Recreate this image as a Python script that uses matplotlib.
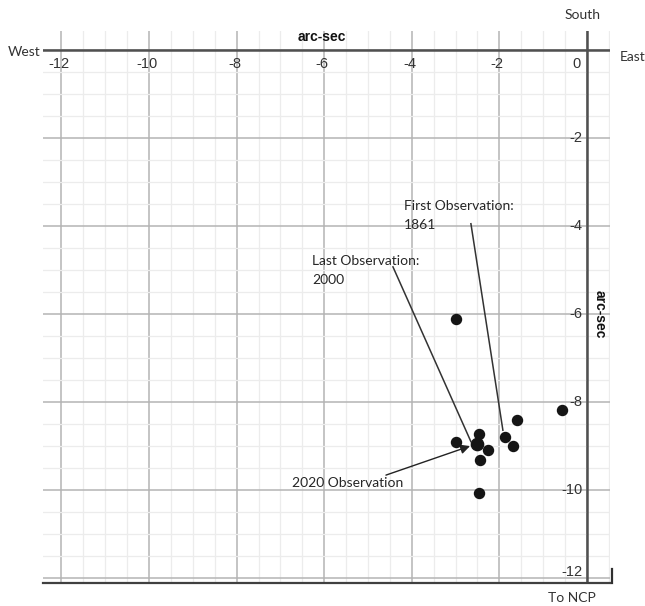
import numpy as np
import matplotlib
matplotlib.use("Agg")
import matplotlib.pyplot as plt

obs_x = [-0.58, -1.60, -1.87, -1.68, -2.46, -2.99, -2.25, -2.44, -2.46, -2.99]
obs_y = [-8.18, -8.41, -8.80, -8.99, -8.73, -8.91, -9.09, -9.32, -10.06, -6.11]
# 2000 / 2020 observations sit on top of each other
last_x = [-2.50]
last_y = [-8.96]

x_ticks = [-12, -10, -8, -6, -4, -2, 0]
y_ticks = [-2, -4, -6, -8, -10, -12]

fig = plt.figure(figsize=(6.45, 6.06), dpi=100)
ax = fig.add_axes([0.0667, 0.038, 0.879, 0.911])
ax.set_xlim(-12.42, 0.525)
ax.set_ylim(-12.11, 0.43)

# grid: light every 0.5, darker every 2
for v in np.arange(-12, 0.6, 0.5):
    major = abs(v / 2 - round(v / 2)) < 1e-9
    ax.axvline(v, color="#b4b4b4" if major else "#ececec", lw=1.1 if major else 0.9, zorder=0)
for v in np.arange(-12, 0.5, 0.5):
    major = abs(v / 2 - round(v / 2)) < 1e-9
    ax.axhline(v, color="#b4b4b4" if major else "#ececec", lw=1.1 if major else 0.9, zorder=0)

ax.axhline(0, color="#505050", lw=1.8, zorder=1)
ax.axvline(0, color="#505050", lw=1.8, zorder=1)

for s in ["top", "right", "left"]:
    ax.spines[s].set_visible(False)
ax.spines["bottom"].set_color("#404040")
ax.spines["bottom"].set_linewidth(1.6)
ax.set_xticks([])
ax.set_yticks([])
ax.plot([0.57, 0.57], [-12.11, -11.8], color="#303030", lw=1.6, clip_on=False)

tick_font = dict(family="Liberation Sans", fontsize=10.5, color="#333333")
for t in x_ticks:
    xp = -0.23 if t == 0 else t - 0.05
    ax.text(xp, -0.32, str(t), ha="center", va="center", **tick_font)
for t in y_ticks:
    yp = -11.86 if t == -12 else t
    ax.text(-0.1, yp, str(t), ha="right", va="center", **tick_font)

ax.scatter(obs_x, obs_y, s=52, color="#151515", zorder=5, clip_on=False)
ax.scatter(last_x, last_y, s=78, color="#151515", zorder=5)

ann_font = dict(family="Lato", fontsize=10, color="#262626")
ax.text(-4.18, -3.76, "First Observation:\n1861", ha="left", va="center",
        linespacing=1.75, **ann_font)
ax.text(-6.28, -5.01, "Last Observation:\n2000", ha="left", va="center",
        linespacing=1.75, **ann_font)
ax.text(-6.74, -9.84, "2020 Observation", ha="left", va="center", **ann_font)

ax.plot([-2.65, -1.92], [-3.95, -8.64], color="#333333", lw=1.1, zorder=4)
ax.plot([-4.43, -2.65], [-4.93, -8.90], color="#333333", lw=1.1, zorder=4)
ax.annotate("", xy=(-2.67, -9.0), xytext=(-4.59, -9.66),
            arrowprops=dict(arrowstyle="-|>", color="#222222", lw=1.0,
                            mutation_scale=14, shrinkA=0, shrinkB=0))

side_font = dict(family="Lato", fontsize=10, color="#333333")
ax.text(-12.85, -0.05, "West", ha="center", va="center", clip_on=False, **side_font)
ax.text(1.33, -0.16, "East", ha="right", va="center", clip_on=False, **side_font)
ax.text(-0.09, 0.80, "South", ha="center", va="center", clip_on=False, **side_font)
ax.text(-0.34, -12.45, "To NCP", ha="center", va="center", clip_on=False, **side_font)

ax.text(-6.05, 0.30, "arc-sec", ha="center", va="center", fontweight="bold",
        family="Liberation Sans", fontsize=10, color="#111111")
ax.text(0.3, -6.0, "arc-sec", ha="center", va="center", rotation=-90,
        fontweight="bold", family="Liberation Sans", fontsize=10, color="#111111")

fig.savefig("out.png", dpi=100)
